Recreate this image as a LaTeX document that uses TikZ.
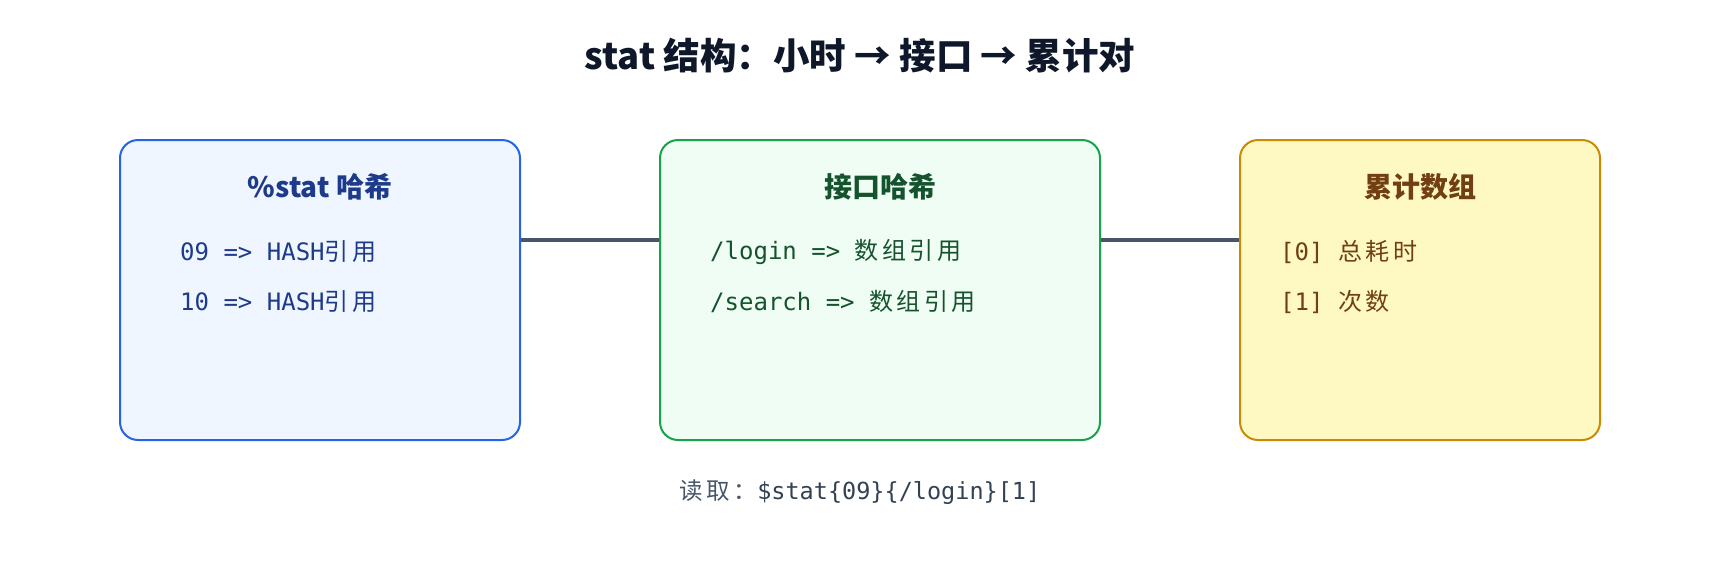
\documentclass[tikz,border=0pt]{standalone}
\usepackage{fontspec}
\setmainfont{Noto Sans CJK SC}
\setmonofont{DejaVu Sans Mono}
\newfontfamily\cjk{Noto Sans CJK SC}[LetterSpace=15]
\usetikzlibrary{positioning}
\definecolor{bluefill}{HTML}{EFF6FF}
\definecolor{blueline}{HTML}{2563EB}
\definecolor{bluetext}{HTML}{1E3A8A}
\definecolor{greenfill}{HTML}{F0FDF4}
\definecolor{greenline}{HTML}{16A34A}
\definecolor{greentext}{HTML}{14532D}
\definecolor{yelfill}{HTML}{FEF9C3}
\definecolor{yelline}{HTML}{CA8A04}
\definecolor{yeltext}{HTML}{713F12}
\definecolor{conncol}{HTML}{475569}
\definecolor{titlecol}{HTML}{0F172A}
\definecolor{footgray}{HTML}{475569}
\definecolor{footcode}{HTML}{334155}
\tikzset{
  panel/.style={draw, rounded corners=18pt, line width=2pt, minimum height=300pt, inner sep=0pt},
  conn/.style={draw=conncol, line width=4pt},
  ptitle/.style={font=\fontsize{28}{32}\selectfont\bfseries, anchor=center, inner sep=0pt},
  pline/.style={font=\fontsize{24}{28}\selectfont, anchor=west, inner sep=0pt},
}
\begin{document}
\begin{tikzpicture}[x=1pt,y=-1pt]
\useasboundingbox (0,0) rectangle (1720,560);
\node[font=\fontsize{36.5}{42}\selectfont\bfseries, text=titlecol, inner sep=0pt] (title) at (860,56) {stat 结构：小时 → 接口 → 累计对};

\node[panel, draw=blueline, fill=bluefill, minimum width=400pt] (b1) at (320,290) {};
\node[panel, draw=greenline, fill=greenfill, minimum width=440pt] (b2) at (880,290) {};
\node[panel, draw=yelline, fill=yelfill, minimum width=360pt] (b3) at (1420,290) {};

\draw[conn] ([yshift=50pt]b1.east) -- ([yshift=50pt]b2.west);
\draw[conn] ([yshift=50pt]b2.east) -- ([yshift=50pt]b3.west);

\node[ptitle, text=bluetext] (t1) at (320,187) {\%stat 哈希};
\node[pline, text=bluetext] (l11) at (180,252) {\ttfamily 09 => HASH\cjk 引用};
\node[pline, text=bluetext] (l12) at (180,302) {\ttfamily 10 => HASH\cjk 引用};

\node[ptitle, text=greentext] (t2) at (880,187) {接口哈希};
\node[pline, text=greentext] (l21) at (710,252) {\ttfamily /login => \cjk 数组引用};
\node[pline, text=greentext] (l22) at (710,302) {\ttfamily /search => \cjk 数组引用};

\node[ptitle, text=yeltext] (t3) at (1420,187) {累计数组};
\node[pline, text=yeltext] (l31) at (1280,252) {\ttfamily [0] \cjk 总耗时};
\node[pline, text=yeltext] (l32) at (1280,302) {\ttfamily [1] \cjk 次数};

\node[font=\fontsize{23.5}{28}\selectfont, inner sep=0pt] (foot) at (860,492) {\textcolor{footgray}{\cjk 读取：}\textcolor{footcode}{\ttfamily \$stat\{09\}\{/login\}[1]}};
\end{tikzpicture}
\end{document}
